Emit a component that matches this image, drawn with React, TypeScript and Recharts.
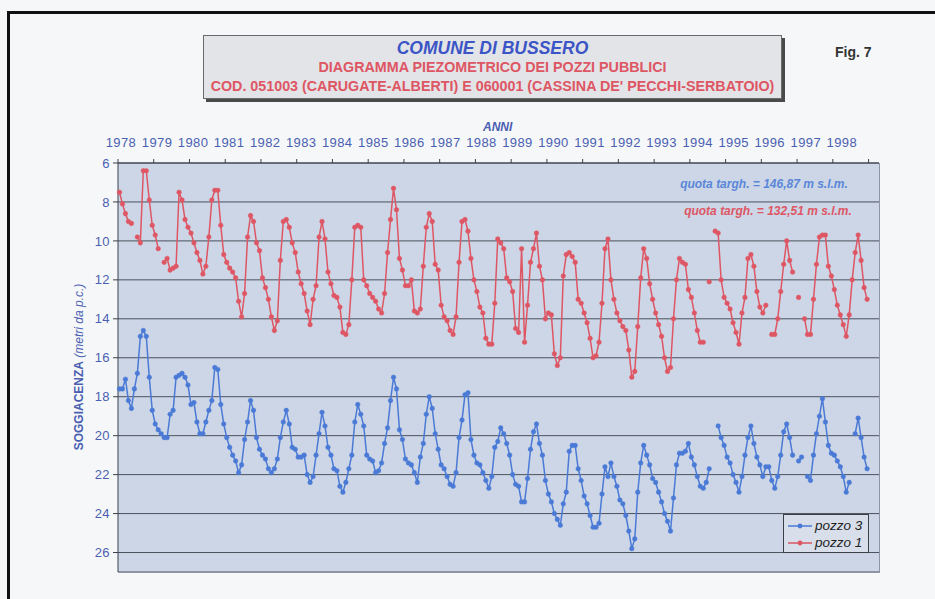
import { LineChart, Line, XAxis, YAxis, CartesianGrid, Legend } from "recharts";

// years on the top axis (one tick every 12 months)
const years = [
  1978, 1979, 1980, 1981, 1982, 1983, 1984, 1985, 1986, 1987, 1988,
  1989, 1990, 1991, 1992, 1993, 1994, 1995, 1996, 1997, 1998,
];
const depthTicks = [6, 8, 10, 12, 14, 16, 18, 20, 22, 24, 26];

// soggiacenza (m from ground), monthly, Jan 1978 -> Dec 1998
const pozzo1: (number | null)[] = [
  7.5, 8.1, 8.6, 9.0, 9.1, null, 9.8, 10.1, 6.4, 6.4, 7.9, 9.2, // 1978
  9.7, 10.4, null, 11.1, 10.9, 11.5, 11.4, 11.3, 7.5, 7.9, 8.9, 9.3, // 1979
  9.6, 10.1, 10.6, 11.0, 11.7, 11.3, 9.8, 7.9, 7.4, 7.4, 9.2, 10.7, // 1980
  11.1, 11.4, 11.6, 11.9, 13.1, 13.9, 12.7, 9.8, 8.7, 9.0, 10.1, 10.5, // 1981
  11.9, 12.4, 13.0, 13.9, 14.6, 14.1, 11.0, 9.0, 8.9, 9.3, 10.1, 10.6, // 1982
  11.6, 12.2, 12.7, 13.6, 14.3, 13.0, 12.3, 9.8, 9.0, 9.9, 11.6, 12.2, // 1983
  12.8, 12.9, 13.4, 14.7, 14.8, 14.3, 12.0, 9.3, 9.2, 9.3, 12.0, 12.3, // 1984
  12.7, 12.9, 13.1, 13.5, 13.7, 12.7, 10.6, 8.9, 7.3, 8.4, 10.9, 11.5, // 1985
  12.3, 12.3, 12.0, 13.6, 13.7, 13.5, 11.3, 9.3, 8.6, 9.0, 11.2, 11.5, // 1986
  13.3, 13.9, 14.1, 14.6, 14.8, 13.9, 11.1, 9.0, 8.9, 9.5, 10.9, 12.0, // 1987
  12.6, 13.4, 13.7, 15.0, 15.3, 15.3, 13.2, 9.9, 10.1, 10.4, 11.9, 12.1, // 1988
  12.6, 14.5, 14.7, 10.4, 15.2, 13.3, 11.1, 10.4, 9.6, 11.3, 12.0, 14.0, // 1989
  13.7, 13.8, 15.8, 16.4, 16.0, 11.8, 10.7, 10.6, 10.8, 11.1, 13.0, 13.2, // 1990
  13.7, 14.2, 15.0, 16.0, 15.9, 15.2, 13.2, 10.4, 9.9, 12.0, 13.0, 13.7, // 1991
  14.1, 14.4, 14.6, 15.6, 17.0, 16.7, 14.4, 11.9, 10.4, 10.9, 12.2, 13.0, // 1992
  13.7, 14.3, 14.9, 16.0, 16.7, 16.5, 14.0, 12.0, 10.9, 11.1, 11.2, 12.5, // 1993
  12.9, 13.7, 14.6, 15.2, 15.2, null, 12.1, null, 9.5, 9.6, 12.0, 12.9, // 1994
  13.2, 13.5, 14.2, 14.7, 15.3, 13.7, 12.9, 10.9, 10.7, 11.3, 12.6, 13.4, // 1995
  13.7, 13.3, null, 14.8, 14.8, 14.0, 12.6, 11.2, 10.0, 11.0, 11.6, null, // 1996
  12.9, null, 14.0, 14.8, 14.8, 13.0, 11.2, 9.8, 9.7, 9.7, 11.3, 11.8, // 1997
  12.5, 13.3, 13.8, 14.3, 14.9, 13.8, 12.0, 10.6, 9.7, 11.0, 12.4, 13.0, // 1998
];

const pozzo3: (number | null)[] = [
  17.6, 17.6, 17.1, 18.2, 18.6, 17.6, 16.8, 14.9, 14.6, 14.9, 17.0, 18.7, // 1978
  19.4, 19.7, 19.9, 20.1, 20.1, 18.9, 18.7, 17.0, 16.9, 16.8, 17.0, 17.4, // 1979
  18.4, 18.3, 19.3, 19.9, 19.9, 19.3, 18.7, 18.2, 16.5, 16.6, 18.4, 19.4, // 1980
  20.1, 20.6, 21.0, 21.3, 21.9, 21.5, 20.2, 19.3, 18.2, 18.7, 20.1, 20.7, // 1981
  21.0, 21.2, 21.7, 21.9, 21.7, 21.2, 20.1, 19.3, 18.7, 19.4, 20.6, 20.7, // 1982
  21.1, 21.1, 21.0, 22.0, 22.4, 22.1, 21.0, 19.9, 18.8, 19.5, 20.6, 21.0, // 1983
  21.7, 21.8, 22.6, 22.9, 22.4, 21.7, 21.0, 19.3, 18.4, 18.9, 19.5, 21.0, // 1984
  21.2, 21.3, 21.9, 21.8, 21.4, 20.4, 19.6, 18.2, 17.0, 17.6, 19.7, 20.2, // 1985
  21.2, 21.4, 21.5, 21.9, 22.4, 21.1, 20.4, 18.9, 18.0, 18.6, 19.9, 20.7, // 1986
  21.5, 21.7, 22.1, 22.5, 22.6, 21.9, 20.1, 19.2, 17.9, 17.8, 20.2, 21.0, // 1987
  21.4, 21.5, 21.9, 22.3, 22.7, 22.1, 20.6, 20.3, 19.6, 19.9, 20.4, 21.0, // 1988
  22.0, 22.5, 22.6, 23.4, 23.4, 22.2, 20.7, 19.8, 19.4, 20.4, 21.0, 22.3, // 1989
  23.0, 23.4, 24.0, 24.3, 24.6, 23.5, 22.9, 20.8, 20.5, 20.5, 21.7, 22.3, // 1990
  23.1, 23.5, 24.1, 24.7, 24.7, 24.5, 23.0, 21.6, 22.1, 21.4, 22.1, 22.6, // 1991
  23.3, 23.5, 24.1, 24.9, 25.8, 25.3, 22.9, 21.4, 20.5, 21.0, 21.5, 22.2, // 1992
  22.4, 22.9, 23.4, 24.0, 24.4, 24.9, 23.2, 21.5, 20.9, 20.9, 20.8, 20.4, // 1993
  21.1, 21.5, 22.1, 22.6, 22.7, 22.4, 21.7, null, null, 19.5, 20.1, 20.5, // 1994
  21.1, 21.4, 22.0, 22.4, 22.9, 22.1, 21.0, 20.1, 19.5, 20.4, 21.1, 21.5, // 1995
  22.1, 21.6, 21.6, 22.3, 22.7, 22.1, 21.0, 19.8, 19.4, 20.1, 21.0, null, // 1996
  21.3, 21.1, null, 22.1, 22.3, 21.0, 19.9, 19.0, 18.1, 19.3, 20.5, 20.9, // 1997
  21.0, 21.3, 21.6, 22.1, 22.9, 22.4, null, 19.9, 19.1, 20.1, 21.1, 21.7, // 1998
];

const rows = pozzo1.map((v, i) => ({ m: i + 0.5, p1: v, p3: pozzo3[i] }));
const yearTicks = [...years.map((_, k) => k * 12), years.length * 12];

const FONT = '"Liberation Sans", Arial, sans-serif';
const BLUE = "#4a7ad6";
const RED = "#de5664";
const TXT_BLUE = "#4a5fb2";
const GRID = "#4c515d";

function YearTick(props: any) {
  const { x, y, payload } = props;
  const k = payload.value / 12;
  if (k >= years.length) return null;
  return (
    <text
      x={x + 3 + k * 0.3}
      y={y - 10}
      textAnchor="middle"
      fill={TXT_BLUE}
      fontSize={13}
      letterSpacing={0.4}
      fontFamily={FONT}
    >
      {years[k]}
    </text>
  );
}

function WellLegend() {
  const items = [
    { label: "pozzo 3", color: BLUE },
    { label: "pozzo 1", color: RED },
  ];
  return (
    <div
      style={{
        width: 86,
        height: 39,
        border: "1px solid #3b3f47",
        background: "#d8dfea",
        fontFamily: FONT,
        fontStyle: "italic",
        fontSize: 13.5,
        color: "#222",
        padding: "2px 0 0 3px",
        boxSizing: "border-box",
      }}
    >
      {items.map((it) => (
        <div key={it.label} style={{ display: "flex", alignItems: "center", height: 17 }}>
          <svg width={26} height={10}>
            <line x1={1} y1={5} x2={25} y2={5} stroke={it.color} strokeWidth={1.5} />
            <circle cx={13} cy={5} r={2.4} fill={it.color} />
          </svg>
          <span style={{ marginLeft: 2 }}>{it.label}</span>
        </div>
      ))}
    </div>
  );
}

export default function App() {
  return (
    <div
      style={{
        position: "absolute",
        left: 0,
        top: 0,
        width: 935,
        height: 599,
        background: "#f6f7f8",
        overflow: "hidden",
        fontFamily: FONT,
      }}
    >
      {/* scan frame */}
      <div
        style={{
          position: "absolute",
          left: 7,
          top: 11,
          width: 940,
          height: 600,
          borderTop: "3px solid #111",
          borderLeft: "3px solid #111",
        }}
      />

      {/* title box */}
      <div
        style={{
          position: "absolute",
          left: 203,
          top: 35,
          width: 579,
          height: 64,
          border: "1px solid #6a6a6a",
          boxShadow: "3px 3px 0 #4a4a4a",
          background: "#e3e4e7",
          textAlign: "center",
          boxSizing: "border-box",
        }}
      >
        <div style={{ color: "#3b55c6", fontWeight: "bold", fontStyle: "italic", fontSize: 17.5, lineHeight: "19px", marginTop: 3 }}>
          COMUNE DI BUSSERO
        </div>
        <div style={{ color: RED, fontWeight: "bold", fontSize: 14.3, lineHeight: "19px" }}>
          DIAGRAMMA PIEZOMETRICO DEI POZZI PUBBLICI
        </div>
        <div style={{ color: RED, fontWeight: "bold", fontSize: 14.3, lineHeight: "19px", whiteSpace: "nowrap" }}>
          COD. 051003 (CARUGATE-ALBERTI) E 060001 (CASSINA DE' PECCHI-SERBATOIO)
        </div>
      </div>

      <div style={{ position: "absolute", left: 835, top: 44, fontSize: 14, fontWeight: "bold", color: "#333" }}>
        Fig. 7
      </div>

      <div
        style={{
          position: "absolute",
          left: 483,
          top: 120,
          fontSize: 12,
          fontWeight: "bold",
          fontStyle: "italic",
          color: TXT_BLUE,
        }}
      >
        ANNI
      </div>

      <LineChart
        width={935}
        height={599}
        data={rows}
        margin={{ top: 133, right: 56, bottom: 27, left: 60 }}
        style={{ position: "absolute", left: 0, top: 0 }}
      >
        <CartesianGrid vertical={false} stroke={GRID} fill="#ccd6e6" fillOpacity={1} />
        <XAxis
          dataKey="m"
          type="number"
          orientation="top"
          domain={[0, 255.5]}
          ticks={yearTicks}
          tick={<YearTick />}
          tickSize={4}
          height={30}
          stroke="#3c414d"
          interval={0}
        />
        <YAxis
          type="number"
          reversed
          domain={[6, 27]}
          ticks={depthTicks}
          width={58}
          tickSize={5}
          tickMargin={3}
          stroke="#3c414d"
          tick={{ fill: TXT_BLUE, fontSize: 13, fontFamily: FONT, letterSpacing: 0.4 }}
          interval={0}
        />
        <Legend
          layout="horizontal"
          verticalAlign="middle"
          align="center"
          content={<WellLegend />}
          wrapperStyle={{ left: 783, top: 514, width: 88, height: 41 }}
        />
        <Line
          dataKey="p3"
          name="pozzo 3"
          stroke={BLUE}
          strokeWidth={1.5}
          dot={{ r: 2.3, fill: BLUE, stroke: BLUE, strokeWidth: 0.5 }}
          isAnimationActive={false}
        />
        <Line
          dataKey="p1"
          name="pozzo 1"
          stroke={RED}
          strokeWidth={1.5}
          dot={{ r: 2.3, fill: RED, stroke: RED, strokeWidth: 0.5 }}
          isAnimationActive={false}
        />
      </LineChart>

      {/* plot frame right / bottom */}
      <div
        style={{
          position: "absolute",
          left: 118,
          top: 163,
          width: 762,
          height: 410,
          borderRight: "1px solid #8d95a2",
          borderBottom: "1px solid #8d95a2",
          boxSizing: "border-box",
          pointerEvents: "none",
        }}
      />

      {/* y axis title */}
      <div
        style={{
          position: "absolute",
          left: 79,
          top: 367,
          transform: "translate(-50%, -50%) rotate(-90deg)",
          whiteSpace: "nowrap",
          fontSize: 12,
          color: TXT_BLUE,
        }}
      >
        <b>SOGGIACENZA</b> <i>(metri da p.c.)</i>
      </div>

      <div
        style={{
          position: "absolute",
          left: 764,
          top: 184,
          transform: "translate(-50%, -50%)",
          whiteSpace: "nowrap",
          fontSize: 12,
          fontWeight: "bold",
          fontStyle: "italic",
          color: "#5b86d8",
        }}
      >
        quota targh. = 146,87 m s.l.m.
      </div>
      <div
        style={{
          position: "absolute",
          left: 768,
          top: 211,
          transform: "translate(-50%, -50%)",
          whiteSpace: "nowrap",
          fontSize: 12,
          fontWeight: "bold",
          fontStyle: "italic",
          color: RED,
        }}
      >
        quota targh. = 132,51 m s.l.m.
      </div>
    </div>
  );
}
